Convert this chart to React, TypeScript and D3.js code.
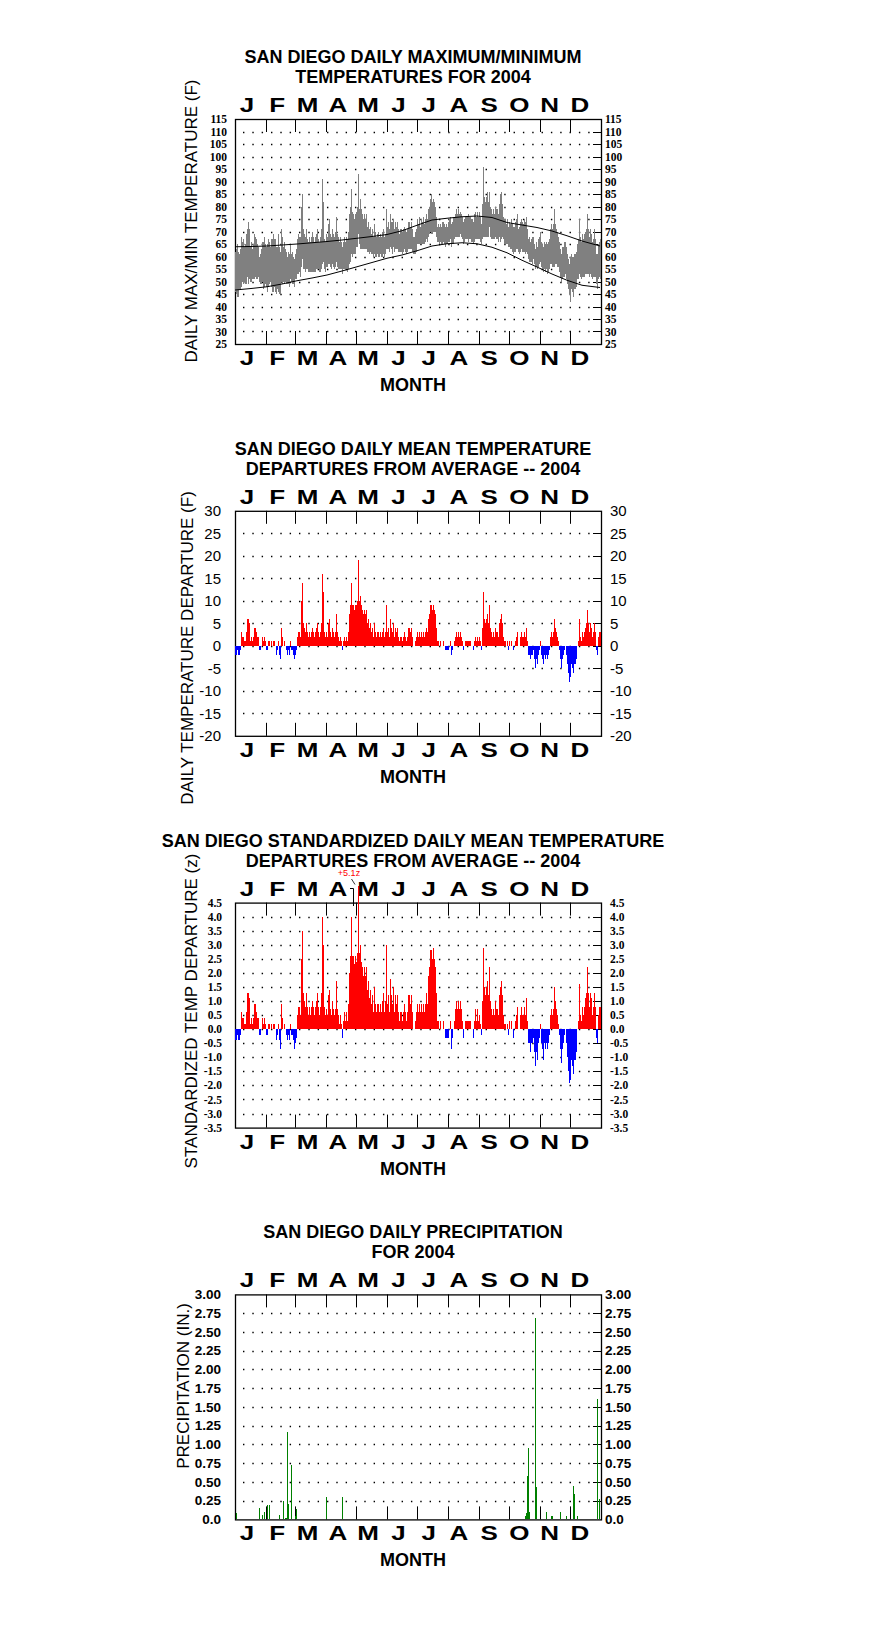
import React from "react";
import * as d3 from "d3";

const MONTH_LETTERS = ["J", "F", "M", "A", "M", "J", "J", "A", "S", "O", "N", "D"];
const MONTH_DAYS = [31, 29, 31, 30, 31, 30, 31, 31, 30, 31, 30, 31];

// daily max / min temperature (F), Jan 1 .. Dec 31 2004
const TMAX = [
  62, 63, 65, 62, 61, 63, 68, 66, 67, 64, 65, 69, 71, 74, 71, 64, 66, 63, 65, 69, 68, 67, 65, 64, 60, 61, 63, 66, 66, 68, 65,
  64, 65, 67, 66, 64, 67, 67, 69, 67, 67, 64, 64, 69, 64, 62, 71, 68, 64, 66, 63, 62, 60, 62, 61, 65, 61, 62, 60, 59,
  61, 63, 67, 69, 68, 68, 80, 85, 71, 69, 68, 71, 67, 66, 68, 66, 68, 70, 68, 66, 68, 69, 71, 67, 66, 68, 71, 91, 82, 67, 66,
  69, 68, 73, 75, 69, 68, 71, 69, 68, 70, 76, 69, 68, 66, 68, 66, 64, 66, 68, 66, 68, 67, 70, 77, 80, 87, 78, 77, 75, 77,
  78, 80, 93, 79, 83, 79, 77, 75, 77, 75, 77, 72, 74, 71, 72, 69, 71, 68, 73, 70, 68, 69, 70, 68, 69, 68, 70, 71, 68, 69, 79,
  72, 74, 71, 77, 74, 74, 75, 71, 74, 72, 74, 71, 69, 71, 71, 70, 71, 72, 71, 70, 71, 74, 74, 72, 74, 71, 68, 68, 70, 71,
  75, 73, 76, 72, 75, 74, 76, 73, 75, 77, 75, 79, 80, 83, 85, 82, 83, 82, 80, 76, 72, 73, 72, 73, 72, 74, 74, 73, 72, 73, 72,
  74, 75, 76, 73, 74, 76, 76, 77, 79, 77, 79, 77, 78, 77, 76, 74, 75, 76, 76, 76, 77, 76, 76, 75, 75, 74, 77, 78, 76, 78, 76,
  78, 76, 73, 81, 96, 84, 82, 84, 86, 82, 86, 80, 79, 77, 79, 77, 80, 79, 79, 77, 81, 85, 86, 81, 76, 75, 75, 73, 75, 72,
  74, 73, 75, 73, 72, 72, 74, 75, 77, 71, 72, 74, 75, 74, 73, 75, 74, 76, 71, 67, 68, 66, 67, 68, 68, 65, 63, 66, 64, 67, 68,
  70, 66, 65, 64, 66, 65, 66, 65, 66, 67, 71, 73, 71, 73, 79, 73, 71, 70, 68, 66, 63, 61, 64, 64, 66, 66, 64, 61, 59, 57,
  60, 61, 60, 60, 61, 61, 62, 65, 67, 75, 68, 66, 69, 67, 69, 70, 71, 77, 71, 68, 71, 69, 66, 67, 71, 67, 61, 61, 65, 66, 67,
];
const TMIN = [
  46, 45, 44, 44, 47, 47, 48, 50, 49, 50, 49, 49, 52, 49, 51, 50, 50, 51, 51, 51, 52, 51, 51, 52, 50, 49, 49, 50, 47, 48, 49,
  48, 46, 48, 49, 50, 48, 46, 46, 48, 46, 45, 47, 46, 45, 45, 50, 49, 50, 49, 50, 49, 49, 49, 48, 51, 50, 49, 49, 48,
  51, 51, 53, 53, 54, 52, 56, 59, 55, 55, 54, 55, 55, 54, 54, 54, 54, 54, 54, 54, 54, 55, 55, 55, 54, 54, 55, 57, 58, 55, 54,
  56, 56, 57, 57, 56, 55, 57, 56, 55, 56, 58, 56, 55, 55, 55, 55, 53, 55, 55, 55, 55, 54, 55, 57, 58, 61, 60, 61, 61, 61,
  64, 64, 69, 65, 63, 63, 63, 63, 63, 63, 63, 62, 62, 61, 62, 61, 61, 60, 61, 60, 60, 61, 60, 60, 61, 60, 60, 61, 60, 61, 63,
  63, 63, 62, 64, 63, 61, 64, 62, 63, 63, 63, 62, 62, 62, 62, 61, 62, 63, 62, 61, 62, 63, 63, 63, 63, 62, 61, 61, 61, 62,
  65, 65, 65, 65, 65, 65, 65, 65, 66, 67, 66, 68, 69, 70, 69, 69, 70, 70, 70, 68, 66, 66, 65, 66, 65, 65, 66, 65, 64, 65, 65,
  66, 66, 67, 64, 65, 65, 67, 68, 68, 68, 68, 68, 69, 68, 67, 65, 66, 67, 67, 67, 66, 67, 67, 66, 66, 65, 66, 67, 67, 67, 67,
  67, 66, 65, 67, 68, 68, 68, 68, 68, 68, 72, 68, 67, 67, 67, 67, 68, 67, 67, 66, 68, 66, 67, 68, 67, 65, 65, 65, 65, 64,
  64, 63, 63, 62, 61, 62, 62, 63, 63, 62, 61, 62, 63, 62, 62, 62, 61, 62, 61, 59, 58, 58, 58, 57, 59, 57, 55, 56, 55, 56, 57,
  58, 56, 55, 54, 55, 54, 55, 53, 54, 55, 57, 57, 56, 56, 56, 57, 57, 56, 56, 54, 52, 50, 51, 52, 52, 53, 51, 49, 47, 45,
  42, 47, 46, 44, 47, 47, 48, 51, 51, 53, 52, 51, 52, 52, 52, 53, 53, 53, 53, 52, 53, 52, 51, 52, 52, 52, 49, 47, 51, 52, 51,
];

// normal max / min curves, sampled at these days of year
const NORMAL_DAYS = [0, 16, 32, 47, 62, 77, 92, 107, 122, 137, 152, 167, 182, 197, 212, 227, 242, 257, 272, 287, 302, 317, 332, 347, 365];
const NORMAL_MAX = [63.9, 64.0, 64.2, 64.6, 65.0, 65.5, 66.0, 66.6, 67.3, 68.0, 68.8, 70.3, 72.5, 74.6, 75.3, 75.9, 76.2, 75.6, 73.6, 72.6, 71.6, 70.2, 68.3, 66.2, 64.2];
const NORMAL_MIN = [46.6, 47.2, 47.9, 49.0, 50.3, 51.4, 52.6, 54.2, 55.9, 57.6, 59.3, 60.6, 62.3, 64.2, 65.1, 65.5, 65.1, 63.7, 61.5, 58.5, 55.8, 53.0, 50.5, 48.5, 47.6];

// daily mean temperature departure (F)
const DEPARTURE = [
  -2, -2, -1, -2, -2, -1, 3, 2, 2, 1, 1, 3, 6, 6, 5, 1, 2, 1, 2, 4, 4, 3, 2, 2, -1, -1, 0, 2, 1, 2, 1,
  -1, -1, 1, 1, 0, 1, 0, 1, 1, 0, -2, -1, 1, -2, -3, 4, 2, 0, 1, 0, -1, -2, -1, -2, 1, -1, -1, -2, -3,
  -2, -1, 2, 3, 3, 2, 10, 14, 5, 4, 3, 5, 3, 2, 3, 2, 3, 4, 3, 2, 3, 4, 5, 3, 2, 3, 5, 16, 12, 3, 2,
  3, 2, 5, 6, 3, 2, 4, 3, 2, 3, 7, 3, 2, 1, 2, 1, -1, 1, 2, 1, 2, 1, 3, 7, 9, 14, 9, 9, 8, 9,
  9, 10, 19, 10, 11, 9, 8, 7, 8, 7, 8, 5, 6, 4, 5, 3, 4, 2, 5, 3, 2, 3, 3, 2, 3, 2, 3, 4, 2, 3, 9,
  3, 4, 2, 6, 4, 3, 5, 2, 4, 3, 4, 2, 1, 2, 2, 1, 2, 3, 2, 1, 2, 4, 4, 3, 4, 2, 0, 0, 1, 2,
  3, 2, 3, 2, 3, 2, 3, 2, 3, 4, 3, 6, 7, 9, 9, 8, 9, 8, 7, 4, 1, 1, 0, 1, 0, 0, 1, 0, -1, -1, -1,
  -1, 0, 1, -2, -1, 0, 1, 2, 3, 2, 3, 2, 3, 2, 1, -1, 0, 1, 1, 1, 1, 1, 1, 0, 0, -1, 1, 2, 1, 2, 1,
  2, 1, -1, 4, 12, 6, 5, 6, 7, 5, 9, 4, 3, 2, 3, 2, 4, 3, 3, 2, 5, 6, 7, 5, 2, 1, 1, 0, 1, -1,
  1, 0, 1, 0, -1, 0, 1, 2, 3, 0, 0, 2, 3, 2, 2, 3, 2, 4, 1, -2, -2, -3, -2, -2, -1, -3, -5, -3, -4, -2, -1,
  1, -2, -3, -4, -2, -3, -2, -3, -2, -1, 2, 3, 2, 3, 6, 4, 3, 2, 1, -1, -3, -5, -3, -2, -1, 0, -2, -4, -6, -8,
  -7, -4, -5, -6, -4, -4, -3, 0, 1, 6, 2, 1, 3, 2, 3, 4, 5, 8, 5, 3, 5, 4, 2, 3, 5, 3, -1, -2, 2, 3, 3,
];

// standardized departure (z)
const ZSCORE = [
  -0.4, -0.4, -0.2, -0.4, -0.4, -0.2, 0.6, 0.4, 0.4, 0.2, 0.2, 0.6, 1.3, 1.3, 1.1, 0.2, 0.4, 0.2, 0.4, 0.9, 0.9, 0.6, 0.4, 0.4, -0.2, -0.2, 0, 0.4, 0.2, 0.4, 0.2,
  -0.2, -0.2, 0.2, 0.2, 0, 0.2, 0, 0.2, 0.2, 0, -0.4, -0.2, 0.2, -0.4, -0.7, 0.9, 0.4, 0, 0.2, 0, -0.2, -0.4, -0.2, -0.4, 0.2, -0.2, -0.2, -0.4, -0.7,
  -0.5, -0.3, 0.5, 0.8, 0.8, 0.5, 2.5, 3.5, 1.3, 1.0, 0.8, 1.3, 0.8, 0.5, 0.8, 0.5, 0.8, 1.0, 0.8, 0.5, 0.8, 1.0, 1.3, 0.8, 0.5, 0.8, 1.3, 4.0, 3.0, 0.8, 0.5,
  0.7, 0.5, 1.2, 1.4, 0.7, 0.5, 1.0, 0.7, 0.5, 0.7, 1.7, 0.7, 0.5, 0.2, 0.5, 0.2, -0.3, 0.3, 0.6, 0.3, 0.6, 0.3, 0.9, 2.0, 2.6, 4.0, 2.6, 2.6, 2.3, 2.6,
  2.4, 2.7, 5.1, 2.7, 3.0, 2.4, 2.2, 1.9, 2.2, 1.9, 2.2, 1.4, 1.7, 1.1, 1.4, 0.9, 1.2, 0.6, 1.5, 0.9, 0.6, 0.9, 0.9, 0.6, 0.9, 0.6, 1.0, 1.3, 0.6, 1.0, 3.0,
  0.9, 1.2, 0.6, 1.8, 1.2, 0.9, 1.5, 0.6, 1.2, 0.9, 1.2, 0.6, 0.3, 0.6, 0.6, 0.3, 0.6, 0.9, 0.6, 0.3, 0.6, 1.2, 1.2, 0.9, 1.2, 0.6, 0, 0, 0.3, 0.6,
  0.9, 0.6, 0.9, 0.6, 0.9, 0.6, 0.9, 0.6, 0.9, 1.3, 0.9, 1.9, 2.2, 2.8, 2.8, 2.5, 2.9, 2.5, 2.2, 1.3, 0.3, 0.3, 0, 0.3, 0, 0, 0.3, 0, -0.3, -0.3, -0.3,
  -0.3, 0, 0.3, -0.7, -0.3, 0, 0.3, 0.7, 1.0, 0.7, 1.0, 0.7, 1.0, 0.7, 0.3, -0.3, 0, 0.3, 0.3, 0.3, 0.3, 0.3, 0.3, 0, 0, -0.3, 0.3, 0.7, 0.3, 0.7, 0.3,
  0.5, 0.2, -0.2, 1.0, 2.9, 1.5, 1.2, 1.5, 1.7, 1.2, 2.2, 1.0, 0.7, 0.5, 0.7, 0.5, 1.0, 0.7, 0.7, 0.5, 1.2, 1.5, 1.7, 1.2, 0.5, 0.2, 0.2, 0, 0.2, -0.2,
  0.3, 0, 0.3, 0, -0.3, 0, 0.3, 0.5, 0.8, 0, 0, 0.5, 0.8, 0.5, 0.5, 0.8, 0.5, 1.1, 0.3, -0.5, -0.5, -0.8, -0.5, -0.5, -0.3, -0.8, -1.3, -0.8, -1.1, -0.5, -0.3,
  0.2, -0.5, -0.7, -1.1, -0.5, -0.7, -0.5, -0.7, -0.5, -0.2, 0.5, 0.7, 0.5, 0.7, 1.5, 1.0, 0.7, 0.5, 0.2, -0.2, -0.7, -1.2, -0.7, -0.5, -0.2, 0, -0.5, -1.0, -1.5, -1.9,
  -1.8, -1.1, -1.3, -1.6, -1.1, -1.1, -0.8, 0, 0.3, 1.6, 0.5, 0.3, 0.8, 0.5, 0.8, 1.1, 1.3, 2.2, 1.3, 0.8, 1.3, 1.1, 0.5, 0.8, 1.3, 0.8, -0.3, -0.5, 0.5, 0.8, 0.8,
];

// precipitation: day of year (0 = Jan 1) and inches
const PRECIP_DAYS = [1, 6, 20, 22, 24, 27, 29, 32, 34, 44, 48, 50, 51, 52, 53, 56, 60, 61, 86, 91, 107, 112, 147, 273, 290, 291, 292, 293, 294, 300, 301, 311, 316, 317, 325, 331, 338, 339, 342, 362, 364];
const PRECIP_IN = [0.09, 0.01, 0.01, 0.01, 0.15, 0.06, 0.1, 0.19, 0.19, 0.06, 0.24, 0.02, 0.02, 1.17, 0.2, 0.73, 0.05, 0.14, 0.01, 0.3, 0.3, 0.01, 0.01, 0.01, 0.05, 0.08, 0.58, 0.95, 0.1, 2.69, 0.43, 0.1, 0.05, 0.05, 0.1, 0.05, 0.44, 0.34, 0.05, 1.6, 0.27];

const TEMP_TICKS = [115, 110, 105, 100, 95, 90, 85, 80, 75, 70, 65, 60, 55, 50, 45, 40, 35, 30, 25];
const DEP_TICKS = [30, 25, 20, 15, 10, 5, 0, -5, -10, -15, -20];
const Z_TICKS = [4.5, 4, 3.5, 3, 2.5, 2, 1.5, 1, 0.5, 0, -0.5, -1, -1.5, -2, -2.5, -3, -3.5];
const PRECIP_TICKS = [3, 2.75, 2.5, 2.25, 2, 1.75, 1.5, 1.25, 1, 0.75, 0.5, 0.25, 0];

const SANS = "'Liberation Sans', Arial, Helvetica, sans-serif";
const SERIF = "'Liberation Serif', 'Times New Roman', serif";

const X_LEFT = 235;
const X_RIGHT = 601;
const PLOT_H = 225;
const x = d3.scaleLinear().domain([0, 366]).range([X_LEFT, X_RIGHT]);
const monthX = d3.scalePoint<number>().domain(d3.range(12)).range([247, 580]);
const monthBounds = Array.from(d3.cumsum(MONTH_DAYS)).slice(0, 11);

type Scale = d3.ScaleLinear<number, number>;

interface PanelProps {
  top: number;
  domain: [number, number];
  ticks: number[];
  fmt: (v: number) => string;
  tickFont: { family: string; size: number; weight: string };
  leftEnd: number;
  rightStart: number;
  titles: string[];
  ylabel: string;
  ylabelX: number;
  ylabelY: number;
  children: (y: Scale) => React.ReactNode;
}

function Panel(p: PanelProps) {
  const bottom = p.top + PLOT_H;
  const y = d3.scaleLinear().domain(p.domain).range([bottom, p.top]);
  const inner = p.ticks.filter((t) => t !== p.domain[0] && t !== p.domain[1]);
  const letter = (cx: number, by: number, s: string, k: string) => (
    <text
      key={k}
      transform={`translate(${cx},${by}) scale(1.3,1)`}
      textAnchor="middle"
      fontFamily={SANS}
      fontWeight="bold"
      fontSize={20}
    >
      {s}
    </text>
  );
  return (
    <g>
      {p.titles.map((t, i) => (
        <text key={t} x={413} y={p.top - 56 + i * 20} textAnchor="middle" fontFamily={SANS} fontWeight="bold" fontSize={18}>
          {t}
        </text>
      ))}
      {MONTH_LETTERS.map((m, i) => letter(monthX(i) ?? 0, p.top - 7, m, "t" + i))}
      {MONTH_LETTERS.map((m, i) => letter(monthX(i) ?? 0, bottom + 21, m, "b" + i))}
      <text x={413} y={bottom + 47} textAnchor="middle" fontFamily={SANS} fontWeight="bold" fontSize={18}>
        MONTH
      </text>

      {inner.map((t) => (
        <g key={"g" + t}>
          <line
            x1={243}
            x2={X_RIGHT - 8}
            y1={Math.round(y(t)) + 0.5}
            y2={Math.round(y(t)) + 0.5}
            stroke="#000"
            strokeWidth={1.4}
            strokeDasharray="1.4 7.93"
          />
          <line x1={X_RIGHT - 8} x2={X_RIGHT} y1={Math.round(y(t)) + 0.5} y2={Math.round(y(t)) + 0.5} stroke="#000" />
        </g>
      ))}
      {monthBounds.map((b) => (
        <g key={"m" + b}>
          <line x1={x(b) + 0.5} x2={x(b) + 0.5} y1={p.top} y2={p.top + 13} stroke="#000" />
          <line x1={x(b) + 0.5} x2={x(b) + 0.5} y1={bottom - 13} y2={bottom} stroke="#000" />
        </g>
      ))}
      <rect x={X_LEFT + 0.5} y={p.top + 0.5} width={X_RIGHT - X_LEFT} height={PLOT_H} fill="none" stroke="#000" strokeWidth={1.3} />

      {p.children(y)}

      {p.ticks.map((t) => (
        <g key={"l" + t} fontFamily={p.tickFont.family} fontSize={p.tickFont.size} fontWeight={p.tickFont.weight}>
          <text x={p.leftEnd} y={y(t)} dy="0.35em" textAnchor="end">
            {p.fmt(t)}
          </text>
          <text x={p.rightStart} y={y(t)} dy="0.35em" textAnchor="start">
            {p.fmt(t)}
          </text>
        </g>
      ))}
      <text
        transform={`translate(${p.ylabelX},${p.ylabelY}) rotate(-90)`}
        textAnchor="middle"
        dominantBaseline="central"
        fontFamily={SANS}
        fontSize={17}
      >
        {p.ylabel}
      </text>
    </g>
  );
}

function TempMarks({ y }: { y: Scale }) {
  const line = d3
    .line<number>()
    .x((_, i) => x(NORMAL_DAYS[i]))
    .y((v) => y(v));
  return (
    <g>
      <g fill="#808080" shapeRendering="crispEdges">
        {TMAX.map((hi, i) => (
          <rect key={i} x={x(i)} width={1} y={y(hi)} height={Math.max(1, y(TMIN[i]) - y(hi))} />
        ))}
      </g>
      <path d={line(NORMAL_MAX) ?? ""} fill="none" stroke="#000" strokeWidth={1} />
      <path d={line(NORMAL_MIN) ?? ""} fill="none" stroke="#000" strokeWidth={1} />
    </g>
  );
}

function SignedBars({ y, values }: { y: Scale; values: number[] }) {
  const y0 = y(0);
  return (
    <g shapeRendering="crispEdges">
      {values.map((v, i) =>
        v === 0 ? null : (
          <rect
            key={i}
            x={x(i)}
            width={1}
            y={v > 0 ? y(v) : y0}
            height={Math.abs(y(v) - y0)}
            fill={v > 0 ? "#ff0000" : "#0000ff"}
          />
        )
      )}
    </g>
  );
}

function PrecipMarks({ y }: { y: Scale }) {
  return (
    <g fill="#008000" shapeRendering="crispEdges">
      {PRECIP_DAYS.map((d, i) => (
        <rect key={d} x={x(d)} width={1} y={y(PRECIP_IN[i])} height={y(0) - y(PRECIP_IN[i])} />
      ))}
    </g>
  );
}

export default function App() {
  const step = 391.8;
  const tops = [119, 119 + step, 119 + 2 * step, 119 + 3 * step];
  const boldSerif = { family: SERIF, size: 11.5, weight: "bold" };
  return (
    <svg width={876} height={1634} style={{ position: "absolute", left: 0, top: 0, background: "#fff" }}>
      <rect width={876} height={1634} fill="#fff" />
      <Panel
        top={tops[0]}
        domain={[25, 115]}
        ticks={TEMP_TICKS}
        fmt={(v) => String(v)}
        tickFont={boldSerif}
        leftEnd={227}
        rightStart={605}
        titles={["SAN DIEGO DAILY MAXIMUM/MINIMUM", "TEMPERATURES FOR 2004"]}
        ylabel="DAILY MAX/MIN TEMPERATURE (F)"
        ylabelX={191}
        ylabelY={221}
      >
        {(y) => <TempMarks y={y} />}
      </Panel>
      <Panel
        top={tops[1]}
        domain={[-20, 30]}
        ticks={DEP_TICKS}
        fmt={(v) => String(v)}
        tickFont={{ family: SANS, size: 15, weight: "normal" }}
        leftEnd={221}
        rightStart={610}
        titles={["SAN DIEGO DAILY MEAN TEMPERATURE", "DEPARTURES FROM AVERAGE -- 2004"]}
        ylabel="DAILY TEMPERATURE DEPARTURE (F)"
        ylabelX={187}
        ylabelY={648}
      >
        {(y) => <SignedBars y={y} values={DEPARTURE} />}
      </Panel>
      <Panel
        top={tops[2]}
        domain={[-3.5, 4.5]}
        ticks={Z_TICKS}
        fmt={(v) => v.toFixed(1)}
        tickFont={boldSerif}
        leftEnd={222}
        rightStart={610}
        titles={["SAN DIEGO STANDARDIZED DAILY MEAN TEMPERATURE", "DEPARTURES FROM AVERAGE -- 2004"]}
        ylabel="STANDARDIZED TEMP DEPARTURE (z)"
        ylabelX={191}
        ylabelY={1011}
      >
        {(y) => (
          <g>
            <SignedBars y={y} values={ZSCORE} />
            <text x={349} y={876} textAnchor="middle" fill="#ff0000" fontFamily={SANS} fontSize={9}>
              +5.1z
            </text>
            <polyline points="351.5,879 355,884.5" fill="none" stroke="#000" strokeWidth={0.8} />
            <polyline points="350,888.5 353.5,888.5 353.5,906" fill="none" stroke="#000" strokeWidth={1} />
          </g>
        )}
      </Panel>
      <Panel
        top={tops[3]}
        domain={[0, 3]}
        ticks={PRECIP_TICKS}
        fmt={(v) => (v === 0 ? "0.0" : v.toFixed(2))}
        tickFont={{ family: SANS, size: 13.5, weight: "bold" }}
        leftEnd={221}
        rightStart={605}
        titles={["SAN DIEGO DAILY PRECIPITATION", "FOR 2004"]}
        ylabel="PRECIPITATION (IN.)"
        ylabelX={183}
        ylabelY={1386}
      >
        {(y) => <PrecipMarks y={y} />}
      </Panel>
    </svg>
  );
}
